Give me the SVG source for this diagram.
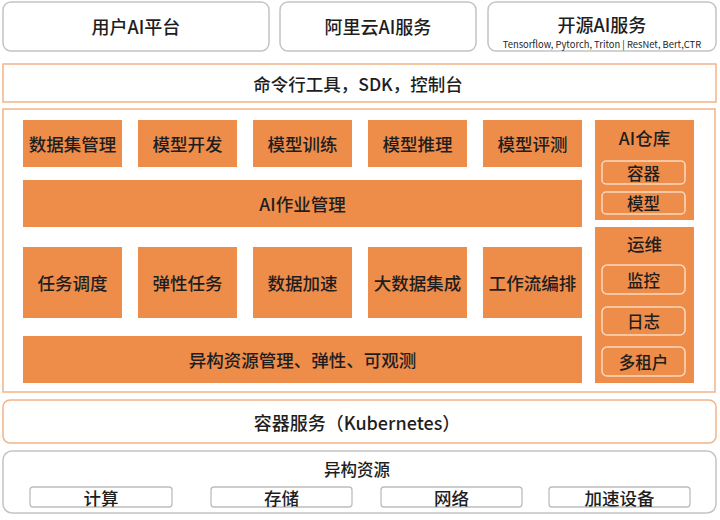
<svg xmlns="http://www.w3.org/2000/svg" width="720" height="520" viewBox="0 0 720 520">
<style>
text{font-family:"Noto Sans CJK SC","Noto Sans",sans-serif;fill:#1e1e1e;text-anchor:middle;dominant-baseline:central;font-weight:500}
.top{fill:#fff;stroke:#c4c4c4;stroke-width:1.5}
.obar{fill:#fff;stroke:#f1b487;stroke-width:1.5}
.blk{fill:#ee8c4a}
.pill{fill:none;stroke:#fbd9bf;stroke-width:1.5}
.res{fill:#fff;stroke:#bdbdbd;stroke-width:1.3}
.t18{font-size:18px}
.t17{font-size:17.5px}
.t16{font-size:16.5px}
</style>
<rect x="0" y="0" width="720" height="520" fill="#fff"/>
<g id="user-ai">
<rect class="top" x="3" y="2" width="266" height="49" rx="8"/>
<text class="t18" x="136" y="26">用户AI平台</text>
</g>
<g id="aliyun-ai">
<rect class="top" x="280" y="2" width="196" height="49" rx="8"/>
<text class="t18" x="378" y="26">阿里云AI服务</text>
</g>
<g id="oss-ai">
<rect class="top" x="488" y="2" width="228" height="49" rx="8"/>
<text class="t18" x="602" y="24">开源AI服务</text>
<text x="602" y="43.5" style="font-size:9.4px;font-weight:400">Tensorflow, Pytorch, Triton | ResNet, Bert,CTR</text>
</g>
<g id="cli">
<rect class="obar" x="3" y="64" width="713" height="38"/>
<text class="t17" x="358" y="83">命令行工具，SDK，控制台</text>
</g>
<g id="platform">
<rect class="obar" x="3" y="109" width="712" height="283"/>
</g>
<g id="dataset"><rect class="blk" x="23" y="120" width="99" height="47"/><text class="t17" x="72.5" y="143.5">数据集管理</text></g>
<g id="model-dev"><rect class="blk" x="138" y="120" width="99" height="47"/><text class="t17" x="187.5" y="143.5">模型开发</text></g>
<g id="model-train"><rect class="blk" x="253" y="120" width="99" height="47"/><text class="t17" x="302.5" y="143.5">模型训练</text></g>
<g id="model-infer"><rect class="blk" x="368" y="120" width="99" height="47"/><text class="t17" x="417.5" y="143.5">模型推理</text></g>
<g id="model-eval"><rect class="blk" x="483" y="120" width="99" height="47"/><text class="t17" x="532.5" y="143.5">模型评测</text></g>
<g id="ai-job"><rect class="blk" x="23" y="180" width="559" height="47"/><text class="t17" x="302.5" y="203.5">AI作业管理</text></g>
<g id="ai-repo">
<rect class="blk" x="595" y="120" width="99" height="100"/>
<text class="t17" x="644.5" y="137">AI仓库</text>
<rect class="pill" x="602" y="161" width="83" height="23" rx="4"/>
<text class="t16" x="643.5" y="172.5">容器</text>
<rect class="pill" x="602" y="192" width="83" height="22" rx="4"/>
<text class="t16" x="643.5" y="203">模型</text>
</g>
<g id="sched"><rect class="blk" x="23" y="247" width="99" height="71"/><text class="t17" x="72.5" y="282.5">任务调度</text></g>
<g id="elastic"><rect class="blk" x="138" y="247" width="99" height="71"/><text class="t17" x="187.5" y="282.5">弹性任务</text></g>
<g id="data-acc"><rect class="blk" x="253" y="247" width="99" height="71"/><text class="t17" x="302.5" y="282.5">数据加速</text></g>
<g id="bigdata"><rect class="blk" x="368" y="247" width="99" height="71"/><text class="t17" x="417.5" y="282.5">大数据集成</text></g>
<g id="workflow"><rect class="blk" x="483" y="247" width="99" height="71"/><text class="t17" x="532.5" y="282.5">工作流编排</text></g>
<g id="hetero-mgmt"><rect class="blk" x="23" y="336" width="559" height="47"/><text class="t17" x="302.5" y="359.5">异构资源管理、弹性、可观测</text></g>
<g id="ops">
<rect class="blk" x="595" y="227" width="99" height="156"/>
<text class="t17" x="644.5" y="243">运维</text>
<rect class="pill" x="602" y="265" width="83" height="29" rx="5"/>
<text class="t16" x="643.5" y="279.5">监控</text>
<rect class="pill" x="602" y="307" width="83" height="28" rx="5"/>
<text class="t16" x="643.5" y="321">日志</text>
<rect class="pill" x="602" y="347" width="83" height="29" rx="5"/>
<text class="t16" x="643.5" y="361.5">多租户</text>
</g>
<g id="k8s">
<rect class="obar" x="3" y="400" width="713" height="43" rx="7"/>
<text class="t18" x="357" y="421.5">容器服务（Kubernetes）</text>
</g>
<g id="hetero-res">
<rect class="top" x="3" y="451" width="713" height="62" rx="9"/>
<text class="t16" x="357" y="469">异构资源</text>
<rect class="res" x="30" y="487" width="142" height="20" rx="3"/>
<text class="t17" x="101" y="497">计算</text>
<rect class="res" x="211" y="487" width="141" height="20" rx="3"/>
<text class="t17" x="281.5" y="497">存储</text>
<rect class="res" x="381" y="487" width="141" height="20" rx="3"/>
<text class="t17" x="451.5" y="497">网络</text>
<rect class="res" x="549" y="487" width="141" height="20" rx="3"/>
<text class="t17" x="619.5" y="497">加速设备</text>
</g>
<g id="connectors"></g>
</svg>
